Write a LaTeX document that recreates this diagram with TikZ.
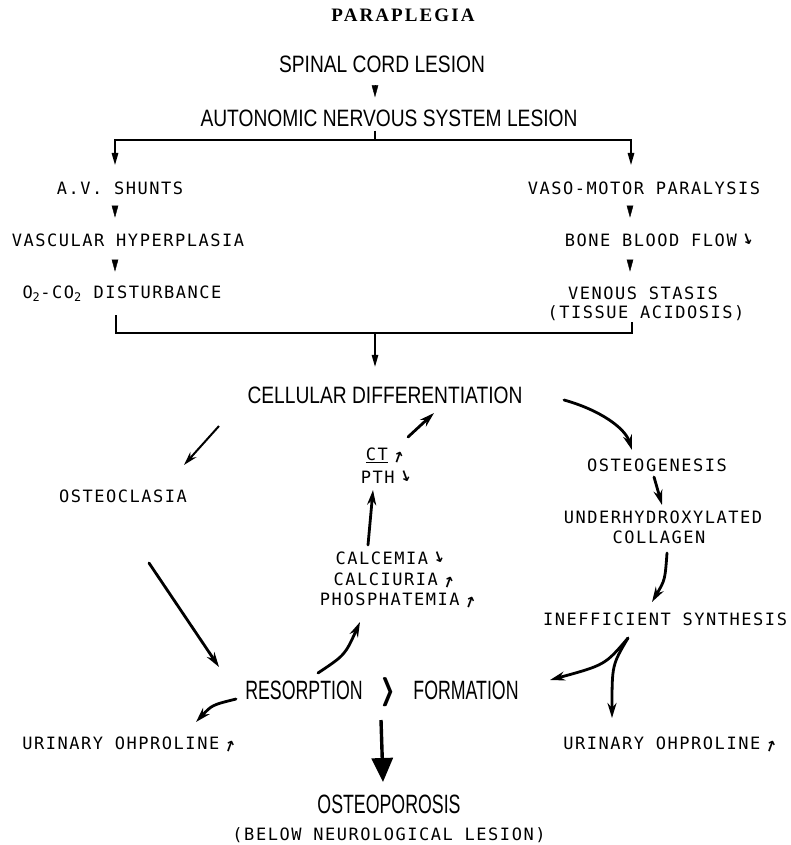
\documentclass[tikz,border=0pt]{standalone}
\usepackage{fontspec}
\usetikzlibrary{arrows.meta}
\newfontfamily\bigf{Liberation Sans}[FakeStretch=0.81]
\newfontfamily\narf{Liberation Sans}[FakeStretch=0.67]
\newfontfamily\smallf{DejaVu Sans Mono}[LetterSpace=9]
\newfontfamily\titlef{Liberation Serif}[LetterSpace=11]
\newfontfamily\symf{DejaVu Sans}
\newcommand\upm{\,\rotatebox{-20}{\symf\bfseries\fontsize{15}{15}\selectfont ↑}}
\newcommand\dnm{\,\rotatebox{20}{\symf\bfseries\fontsize{15}{15}\selectfont ↓}}
\newcommand\fatrangle{\rlap{$\rangle$}\kern0.12pt\rlap{$\rangle$}\kern0.12pt\rlap{$\rangle$}\kern0.12pt$\rangle$}
\begin{document}
\begin{tikzpicture}[x=1pt,y=-1pt,
  title/.style={font=\titlef\bfseries\fontsize{19}{22}\selectfont, inner sep=0pt, text height=12.6pt, text depth=0pt},
  big/.style={font=\bigf\fontsize{23.7}{26}\selectfont, inner sep=0pt, text height=17pt, text depth=0pt},
  nar/.style={font=\narf\fontsize{26.5}{28}\selectfont, inner sep=0pt, text height=19pt, text depth=0pt},
  small/.style={font=\smallf\fontsize{17}{20}\selectfont, inner sep=0pt, text height=12.4pt, text depth=0pt},
  thinln/.style={line width=1.4pt},
  thinarr/.style={line width=1.4pt, -{Triangle[length=12pt,width=6.5pt]}},
  tri/.style={line width=0.4pt, -{Triangle[length=12pt,width=6.5pt]}},
  med/.style={line width=2pt, -{Stealth[length=14pt,width=8pt]}},
  fat/.style={line width=2.8pt, line cap=round, -{Stealth[length=15pt,width=9pt]}},
  huge/.style={line width=3.4pt, -{Triangle[length=24pt,width=21pt]}}]
\useasboundingbox (0,0) rectangle (790,845);
\fill[white] (0,0) rectangle (790,845);

% texts
\node[title] (para) at (403,15) {PARAPLEGIA};
\node[big] (spinal) at (382,64.5) {SPINAL CORD LESION};
\node[big] (auto) at (389,118) {AUTONOMIC NERVOUS SYSTEM LESION};
\node[small] (avs) at (120,188) {A.V. SHUNTS};
\node[small] (vaso) at (644,188) {VASO-MOTOR PARALYSIS};
\node[small] (vasc) at (128,240) {VASCULAR HYPERPLASIA};
\node[small] (bbf) at (660,240) {BONE BLOOD FLOW\dnm};
\node[small] (o2) at (122,292) {O\textsubscript{2}-CO\textsubscript{2} DISTURBANCE};
\node[small] (venous) at (643,293) {VENOUS STASIS};
\node[small] (tissue) at (646,312) {(TISSUE ACIDOSIS)};
\node[big] (cell) at (385,395) {CELLULAR DIFFERENTIATION};
\node[small] (oclas) at (123,496) {OSTEOCLASIA};
\node[small] (ct) at (386,454) {\underline{CT}\upm};
\node[small] (pth) at (387,477) {PTH\dnm};
\node[small] (calc) at (391,558) {CALCEMIA\dnm};
\node[small] (calu) at (395,579) {CALCIURIA\upm};
\node[small] (phos) at (399,599) {PHOSPHATEMIA\upm};
\node[small] (ogen) at (657,465) {OSTEOGENESIS};
\node[small] (uhc) at (663,517) {UNDERHYDROXYLATED};
\node[small] (coll) at (659,537) {COLLAGEN};
\node[small] (ineff) at (665,619) {INEFFICIENT SYNTHESIS};
\node[nar] (resorp) at (304,690) {RESORPTION};
\node[inner sep=0pt] (gt) at (389,692) {\scalebox{2.9}{\boldmath\fatrangle}};
\node[nar] (form) at (466,690) {FORMATION};
\node[small] (uleft) at (130,743) {URINARY OHPROLINE\upm};
\node[small] (uright) at (671,743) {URINARY OHPROLINE\upm};
\node[nar] (osteo) at (389,804) {OSTEOPOROSIS};
\node[small] (below) at (389,834) {(BELOW NEUROLOGICAL LESION)};

% top tree
\draw[tri] ([shift={(-7,14)}]spinal.south) -- ([shift={(-14,-12)}]auto.north);
\coordinate (bp) at (375,140);
\coordinate (bl) at (115,165);
\coordinate (br) at (631,165);
\draw[thinln] ([shift={(-14,4)}]auto.south) -- (bp);
\draw[thinarr] (bp) -| (bl);
\draw[thinarr] (bp) -| (br);
\draw[tri] ([shift={(-5,13)}]avs.south) -- ([shift={(-13,-16)}]vasc.north);
\draw[tri] ([shift={(-13,14)}]vasc.south) -- ([shift={(-7,-14)}]o2.north);
\draw[tri] ([shift={(-14,13)}]vaso.south) -- ([shift={(-30,-16)}]bbf.north);
\draw[tri] ([shift={(-30,14)}]bbf.south) -- ([shift={(-13,-15)}]venous.north);
\coordinate (ml) at (116,315);
\coordinate (mr) at (632,322);
\coordinate (mb) at (375,333);
\draw[thinln] (ml) -- (ml |- mb) -- (mr |- mb) -- (mr);
\draw[thinarr, shorten >=19.5pt] (mb) -- (mb |- cell.north);

% lower cycle
\draw[med] ([shift={(-166,31)}]cell.center) -- ([shift={(61,-31)}]oclas.center);
\draw[fat] ([shift={(22,-17)}]ct.center) -- ([shift={(49,18)}]cell.center);
\draw[fat] ([shift={(-23,-13)}]calc.center) -- ([shift={(-14,13)}]pth.center);
\draw[fat] ([shift={(179,5)}]cell.center) .. controls (600,410) and (625,428) .. ([shift={(-25,-15)}]ogen.center);
\draw[fat] ([shift={(-3,12)}]ogen.center) -- ([shift={(-1,-12)}]uhc.center);
\draw[fat] ([shift={(8,16)}]coll.center) .. controls (665,580) .. ([shift={(-13,-17)}]ineff.center);
\draw[fat] ([shift={(26,67)}]oclas.center) -- ([shift={(-85,-23)}]resorp.center);
\draw[fat] ([shift={(14,-17)}]resorp.center) .. controls (345,655) .. ([shift={(-39,23)}]phos.center);
\draw[fat] ([shift={(-37,19)}]ineff.center) .. controls (605,665) .. ([shift={(84,-10)}]form.center);
\draw[fat] ([shift={(-37,19)}]ineff.center) .. controls (612,665) .. ([shift={(-59,-25)}]uright.center);
\draw[fat] ([shift={(-68,9)}]resorp.center) .. controls (212,705) .. ([shift={(66,-21)}]uleft.center);
\draw[huge] ([shift={(-8,28)}]gt.center) -- ([shift={(-6,-22)}]osteo.center);
\end{tikzpicture}
\end{document}
